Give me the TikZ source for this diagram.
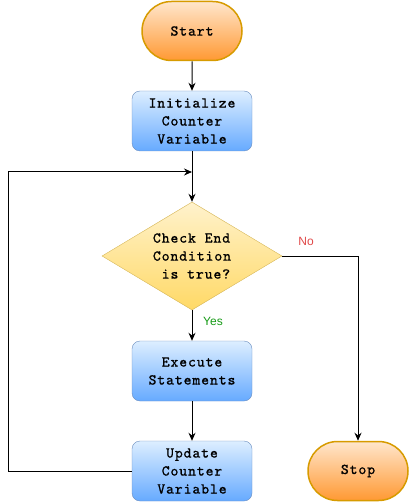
\documentclass[tikz,border=0pt]{standalone}
\usepackage{fontspec}
\setsansfont{Liberation Sans}
\newfontfamily\flowfont{lmmono10-regular}[Extension=.otf, LetterSpace=6, FakeBold=1]
\usetikzlibrary{arrows.meta}
\usetikzlibrary{shapes.misc}
\usetikzlibrary{shapes.geometric}
\definecolor{proctop}{HTML}{DDEEFF}
\definecolor{procbot}{HTML}{66AAFF}
\definecolor{procline}{HTML}{6C8EBF}
\definecolor{termtop}{HTML}{FFE6CC}
\definecolor{termbot}{HTML}{FF9933}
\definecolor{termline}{HTML}{D79B00}
\definecolor{condtop}{HTML}{FFF2CC}
\definecolor{condbot}{HTML}{FFD966}
\definecolor{condline}{HTML}{D6B656}
\definecolor{nored}{HTML}{E04848}
\definecolor{yesgreen}{HTML}{159A15}
\begin{document}
\begin{tikzpicture} [x=1pt, y=-1pt,
 boxtxt/.style={font=\fontsize{15}{18}\selectfont\flowfont, align=center},
 process/.style={boxtxt, rectangle, rounded corners=8pt, draw=procline, top color=proctop, bottom color=procbot, minimum width=120pt, minimum height=60pt, inner sep=0pt},
 terminal/.style={boxtxt, rounded rectangle, draw=termline, line width=1.5pt, top color=termtop, bottom color=termbot, minimum width=100pt, minimum height=59pt, inner sep=0pt},
 cond/.style={diamond, draw=condline, top color=condtop, bottom color=condbot, minimum width=180pt, minimum height=108pt, inner sep=0pt},
 lbl/.style={font=\fontsize{12}{14}\selectfont\sffamily},
 flow/.style={black, line width=1pt, -{Stealth[length=8pt,width=7pt]}}]
\useasboundingbox (0,0) rectangle (409,502);

\node[terminal] (start) at (192,31) {Start};
\node[process] (init) at (192,121) {Initialize\\Counter\\Variable};
\node[cond] (check) at (192,256) {};
\node[boxtxt, align=left] (checktxt) at (check) {Check End\\Condition\\\ is true?};
\node[process] (exec) at (192,371) {Execute\\Statements};
\node[process] (update) at (192,471) {Update\\Counter\\Variable};
\node[terminal] (stop) at (358,471) {Stop};
\node[lbl, text=nored] (no) at (306,241) {No};
\node[lbl, text=yesgreen] (yes) at (213,321) {Yes};
\coordinate (join) at (192,172);
\coordinate (loopcorner) at (8,172);

\draw[flow] (start) -- (init);
\draw[flow] (init) -- (check);
\draw[flow] (check) -- (exec);
\draw[flow] (exec) -- (update);
\draw[flow] (check.east) -| (stop.north);
\draw[flow] (update.west) -| (loopcorner) -- (join);
\end{tikzpicture}
\end{document}
